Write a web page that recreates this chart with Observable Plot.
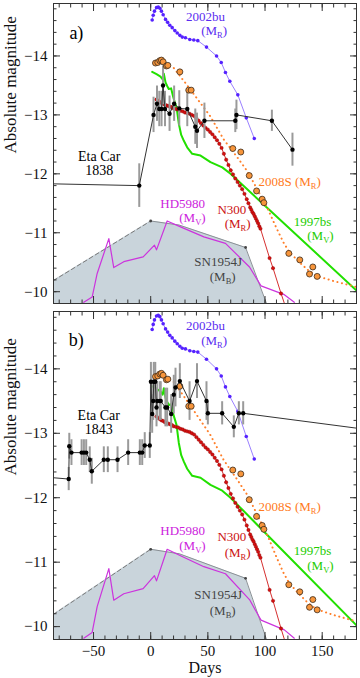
<!DOCTYPE html>
<html><head><meta charset="utf-8">
<script src="https://cdn.jsdelivr.net/npm/d3@7"></script>
<script src="https://cdn.jsdelivr.net/npm/@observablehq/plot@0.6"></script>
<style>
body{margin:0;background:#fff}
#chart{width:360px}
#chart svg{display:block}
</style>
</head><body><div id="chart"></div>
<script>
// ---------------- data (days since peak, absolute magnitude) ----------------
const sn2002buDays = [1.3, 2.2, 3.3, 5.1, 6.6, 8, 9.4, 10.9, 13, 14.8, 16.7, 18.8, 21.1, 23.2, 25.5, 27.6, 30.4, 34.2, 37.7, 41.2, 48.8, 57.6, 61.7, 65.4, 69.2, 76.2, 83.6, 90.6];
const sn2002buMags = [-14.61, -14.69, -14.76, -14.82, -14.83, -14.81, -14.76, -14.70, -14.62, -14.57, -14.52, -14.48, -14.43, -14.39, -14.35, -14.32, -14.31, -14.28, -14.27, -14.26, -14.15, -14.00, -13.89, -13.72, -13.57, -13.34, -12.95, -12.60];

const sn2008sDays = [4.2, 6.2, 8, 9.4, 10.9, 13.8, 15, 25.5, 33.3, 35.4, 71.8, 78.8, 86.2, 92.6, 97.5, 99, 120.8, 130.4, 138.9, 141.8, 145.6];
const sn2008sMags = [-13.88, -13.89, -13.92, -13.93, -13.90, -13.83, -13.84, -13.73, -13.42, -13.42, -12.43, -12.37, -11.97, -11.71, -11.57, -11.51, -10.65, -10.54, -10.30, -10.42, -10.26];
const sn2008sFitDays = [13, 20, 30, 42, 52, 64, 75, 85, 97, 103, 110, 116, 121, 130, 138, 145, 160, 180];
const sn2008sFitMags = [-13.86, -13.80, -13.55, -13.24, -12.98, -12.58, -12.30, -12.03, -11.60, -11.38, -11.08, -10.84, -10.68, -10.50, -10.36, -10.27, -10.18, -10.08];

const sn1997bsDays = [1.3, 5.1, 8.6, 10.5, 11.5, 13, 14.4, 15.8, 17.9, 19, 20.2, 22.6, 24.6, 26.7, 29, 31.9, 36.3, 43.6, 52.3, 62.6, 69.8, 77.1, 180];
const sn1997bsMags = [-13.73, -13.69, -13.65, -13.60, -13.70, -13.55, -13.49, -13.44, -13.45, -13.36, -13.27, -13.13, -12.85, -12.66, -12.56, -12.45, -12.34, -12.31, -12.20, -12.11, -12.00, -11.87, -10.02];

const n300Days = [5, 6.5, 8, 9.5, 11, 12.5, 14, 15.5, 17, 18.5, 20, 22, 24, 26, 28, 30, 32, 34, 36, 38, 40, 42, 44, 46, 48, 50, 52, 54, 56, 58, 60, 62, 64, 66, 68, 70, 72, 74, 76, 78, 80, 82, 84, 85.5, 87, 88, 89, 90, 91, 92, 93, 94, 95, 96, 104, 107, 114];
const n300Mags = [-13.26, -13.24, -13.22, -13.20, -13.19, -13.17, -13.16, -13.15, -13.14, -13.13, -13.11, -13.10, -13.09, -13.07, -13.06, -13.04, -13.03, -13.02, -13.00, -12.98, -12.94, -12.90, -12.86, -12.82, -12.78, -12.75, -12.71, -12.67, -12.62, -12.57, -12.51, -12.44, -12.34, -12.24, -12.15, -12.06, -11.99, -11.92, -11.86, -11.80, -11.74, -11.66, -11.57, -11.50, -11.43, -11.39, -11.35, -11.32, -11.28, -11.24, -11.20, -11.16, -11.11, -11.07, -10.57, -10.40, -9.97];
const n300TailDays = [118];
const n300TailMags = [-9.74];

const hd5980Days = [-58.5, -51.2, -46.8, -36.6, -32.3, -23.5, -6.6, 3.3, 5.1, 14.4, 26.1, 46.5, 65.4, 86.4, 96.5, 116.9, 125.6];
const hd5980Mags = [-9.82, -9.91, -10.31, -10.90, -10.41, -10.51, -10.59, -10.79, -10.71, -11.20, -11.10, -10.93, -10.82, -10.42, -10.10, -9.95, -9.82];

const sn1954jDashDays = [-85, 0];
const sn1954jDashMags = [-10.19, -11.20];
const sn1954jDays = [0, 25, 83, 101.3];
const sn1954jMags = [-11.20, -11.13, -10.75, -9.80];
const sn1954jMarkDays = [0, 83];
const sn1954jMarkMags = [-11.20, -10.75];

// Eta Car 1838 (panel a); error null = line only
const eta1838Days = [-85, -10, 2.5, 5.5, 7.5, 9.5, 10.8, 12.5, 16.5, 20.5, 25, 32, 39, 40.5, 47, 74, 75, 106, 124];
const eta1838Mags = [-11.83, -11.80, -13.00, -13.19, -13.10, -13.10, -13.50, -13.10, -13.02, -13.19, -13.11, -13.10, -12.80, -12.73, -12.90, -12.90, -13.00, -12.90, -12.41];
const eta1838Errs = [null, 0.37, 0.3, 0.3, 0.3, 0.3, 0.33, 0.3, 0.3, 0.3, 0.3, 0.3, 0.3, 0.3, 0.3, 0.2, 0.25, 0.18, 0.28];

// Eta Car 1843 (panel b)
const eta1843Days = [-85, -71.7, -71.2, -69.3, -60.4, -58.4, -56.4, -53.3, -51.5, -41, -37.5, -29, -19.7, -9.5, -7.4, -5.2, -0.8, 0.2, 1.3, 2.2, 2.7, 4, 5.1, 5.7, 8, 8.8, 12.9, 14.4, 17.9, 20.2, 21.7, 25.5, 34, 40.5, 48.8, 50, 62.5, 72.7, 77.1, 80.9, 180];
const eta1843Mags = [-12.31, -12.29, -12.80, -12.70, -12.70, -12.70, -12.70, -12.59, -12.41, -12.59, -12.59, -12.59, -12.70, -12.70, -12.70, -12.81, -12.81, -13.80, -13.30, -13.50, -13.80, -13.80, -13.40, -13.50, -13.50, -13.50, -13.40, -13.40, -13.30, -13.60, -13.71, -13.81, -13.50, -13.81, -13.50, -13.31, -13.31, -13.10, -13.31, -13.31, -13.08];
const eta1843Errs = [null, 0.18, 0.2, 0.2, 0.2, 0.2, 0.2, 0.2, 0.2, 0.2, 0.2, 0.2, 0.2, 0.2, 0.2, 0.2, 0.2, 0.3, 0.3, 0.3, 0.3, 0.3, 0.3, 0.3, 0.3, 0.3, 0.3, 0.3, 0.3, 0.3, 0.3, 0.27, 0.3, 0.27, 0.3, 0.18, 0.18, 0.17, 0.18, 0.18, null];

const xMajorTicks = [-50, 0, 50, 100, 150];
const xMinorTicks = [-80, -70, -60, -50, -40, -30, -20, -10, 0, 10, 20, 30, 40, 50, 60, 70, 80, 90, 100, 110, 120, 130, 140, 150, 160, 170, 180];
const yMajorTicks = [-14, -13, -12, -11, -10];
const yMinorTicks = [-14.8, -14.6, -14.4, -14.2, -14, -13.8, -13.6, -13.4, -13.2, -13, -12.8, -12.6, -12.4, -12.2, -12, -11.8, -11.6, -11.4, -11.2, -11, -10.8, -10.6, -10.4, -10.2, -10];

// ---------------- helpers ----------------
const rows = (days, mags, errs) => days.map((d, i) => ({d, m: mags[i], e: errs ? errs[i] : undefined}));
const FONT = "'Liberation Serif', 'DejaVu Serif', serif";
const fmt = v => (v < 0 ? "\u2212" + Math.abs(v) : String(v));

const sn2002bu = rows(sn2002buDays, sn2002buMags);
const sn2008s = rows(sn2008sDays, sn2008sMags);
const sn2008sFit = rows(sn2008sFitDays, sn2008sFitMags);
const sn1997bs = rows(sn1997bsDays, sn1997bsMags);
const n300 = rows(n300Days, n300Mags);
const n300Line = n300.concat(rows(n300TailDays, n300TailMags));
const hd5980 = rows(hd5980Days, hd5980Mags);
const sn1954jDash = rows(sn1954jDashDays, sn1954jDashMags);
const sn1954j = rows(sn1954jDays, sn1954jMags);
const sn1954jArea = sn1954jDash.concat(sn1954j.slice(1));
const sn1954jMark = rows(sn1954jMarkDays, sn1954jMarkMags);

// annotation placement (data coordinates)
const labels = [
  {t: "2002bu", d: 48, m: -14.67, c: "#5a2cf0"},
  {t: "(M_R)", d: 55.5, m: -14.43, c: "#5a2cf0"},
  {t: "2008S (M_R)", d: 121.5, m: -11.86, c: "#ff7a22"},
  {t: "N300", d: 71, m: -11.39, c: "#cc1111"},
  {t: "(M_R)", d: 76, m: -11.15, c: "#cc1111"},
  {t: "1997bs", d: 141.5, m: -11.18, c: "#22cc00"},
  {t: "(M_V)", d: 148.5, m: -10.94, c: "#22cc00"},
  {t: "HD5980", d: 28, m: -11.49, c: "#cc22dd"},
  {t: "(M_V)", d: 36.5, m: -11.25, c: "#cc22dd"},
  {t: "SN1954J", d: 59, m: -10.50, c: "#444"},
  {t: "(M_B)", d: 63, m: -10.25, c: "#444"}
];

function tickAxes() {
  const common = {fill: "none", label: null, stroke: "#333"};
  const out = [];
  for (const [ticks, s] of [[xMinorTicks, 3.5], [xMajorTicks, 7]]) {
    out.push(Plot.axisX(ticks, {...common, anchor: "bottom", tickSize: s, dy: -s}));
    out.push(Plot.axisX(ticks, {...common, anchor: "top", tickSize: s, dy: s}));
  }
  for (const [ticks, s] of [[yMinorTicks, 3.5], [yMajorTicks, 7]]) {
    out.push(Plot.axisY(ticks, {...common, anchor: "left", tickSize: s, dx: s}));
    out.push(Plot.axisY(ticks, {...common, anchor: "right", tickSize: s, dx: -s}));
  }
  return out;
}

function panel(o) {
  const eta = rows(o.etaDays, o.etaMags, o.etaErrs);
  const etaPts = eta.filter(r => r.e != null);
  const marks = [
    Plot.areaY(sn1954jArea, {x: "d", y1: () => -9.7, y2: "m", fill: "#c9d4db", clip: true}),
    Plot.line(sn1954jDash, {x: "d", y: "m", stroke: "#7a7a7a", strokeWidth: 1, strokeDasharray: "4,3"}),
    Plot.line(sn1954j, {x: "d", y: "m", stroke: "#8a9095", strokeWidth: 1, clip: true}),
    Plot.dot(sn1954jMark, {x: "d", y: "m", r: 1.4, fill: "#444"}),
    Plot.line(hd5980, {x: "d", y: "m", stroke: "#cc33dd", strokeWidth: 1.2, clip: true}),
    Plot.line(sn2002bu, {x: "d", y: "m", stroke: "#9a80ff", strokeWidth: 1}),
    Plot.dot(sn2002bu, {x: "d", y: "m", r: 1.8, fill: "#5522ff"}),
    Plot.line(sn1997bs, {x: "d", y: "m", stroke: "#22e000", strokeWidth: 2, clip: true}),
    Plot.line(sn2008sFit, {x: "d", y: "m", stroke: "#ff7f2a", strokeWidth: 2, strokeDasharray: "0.1,4.5", strokeLinecap: "round", clip: true}),
    Plot.line(n300Line, {x: "d", y: "m", stroke: "#d63030", strokeWidth: 1, clip: true}),
    Plot.dot(n300, {x: "d", y: "m", r: 1.7, fill: "#d41010", stroke: "#8a0000", strokeWidth: 0.4}),
    Plot.ruleX(etaPts, {x: "d", y1: r => r.m - r.e, y2: r => r.m + r.e, stroke: "#9a9a9a", strokeWidth: 2}),
    Plot.dot(sn2008s, {x: "d", y: "m", r: 3, fill: "#f7953b", stroke: "#3a2a1a", strokeWidth: 0.8}),
    Plot.line(eta, {x: "d", y: "m", stroke: "#333", strokeWidth: 1, clip: true}),
    Plot.dot(etaPts, {x: "d", y: "m", r: 2.2, fill: "#000"}),
    Plot.text(labels, {x: "d", y: "m", text: "t", fill: "c", fontSize: 13, fontFamily: FONT}),
    Plot.text(o.etaLabel, {x: o.etaLabelDay, y: (d, i) => o.etaLabelMags[i], text: d => d, fontSize: 14, fill: "#000", fontFamily: FONT}),
    Plot.text([o.tag], {x: -65, y: o.tagM, text: d => d, fontSize: 18, fill: "#000", fontFamily: FONT}),
    ...tickAxes(),
    Plot.axisY(yMajorTicks, {anchor: "left", tickSize: 0, tickPadding: 6, tickFormat: fmt, label: null, fontSize: 15, fill: "#111", fontFamily: FONT}),
    Plot.text(["Absolute magnitude"], {frameAnchor: "left", rotate: -90, dx: -43, text: d => d, fontSize: 17, fill: "#111", fontFamily: FONT}),
    Plot.frame({stroke: "#333", strokeWidth: 1})
  ];
  if (o.showX) {
    marks.push(
      Plot.axisX(xMajorTicks, {anchor: "bottom", tickSize: 0, tickPadding: 6, tickFormat: fmt, label: null, fontSize: 15, fill: "#111", fontFamily: FONT}),
      Plot.text(["Days"], {frameAnchor: "bottom", dy: 33, text: d => d, fontSize: 16, fill: "#111", fontFamily: FONT})
    );
  }
  const svg = Plot.plot({
    width: 360, height: o.height,
    marginLeft: 53, marginRight: 4, marginTop: o.mt, marginBottom: o.mb,
    style: {fontFamily: FONT, fontSize: "14px", background: "white", color: "#111"},
    x: {domain: [-85, 180], axis: null},
    y: {domain: [-9.8, -14.89], axis: null},
    marks
  });
  applySubscripts(svg);
  return svg;
}

function applySubscripts(svg) {
  for (const t of svg.querySelectorAll("text")) {
    const s = t.textContent;
    if (!s.includes("_")) continue;
    const parts = s.split(/_(\w)/);
    t.textContent = "";
    parts.forEach((p, i) => {
      const ts = document.createElementNS("http://www.w3.org/2000/svg", "tspan");
      ts.textContent = p;
      if (i % 2 === 1) { ts.setAttribute("dy", "3"); ts.setAttribute("font-size", "8.5"); }
      else if (i > 0) ts.setAttribute("dy", "-3");
      t.appendChild(ts);
    });
  }
}

const chart = document.getElementById("chart");
chart.appendChild(panel({
  height: 307, mt: 3, mb: 4,
  etaDays: eta1838Days, etaMags: eta1838Mags, etaErrs: eta1838Errs,
  etaLabel: ["Eta Car", "1838"], etaLabelDay: -45, etaLabelMags: [-12.29, -12.05],
  tag: "a)", tagM: -14.39, showX: false
}));
chart.appendChild(panel({
  height: 371, mt: 4, mb: 39,
  etaDays: eta1843Days, etaMags: eta1843Mags, etaErrs: eta1843Errs,
  etaLabel: ["Eta Car", "1843"], etaLabelDay: -45.4, etaLabelMags: [-13.28, -13.06],
  tag: "b)", tagM: -14.45, showX: true
}));
</script>
</body></html>
